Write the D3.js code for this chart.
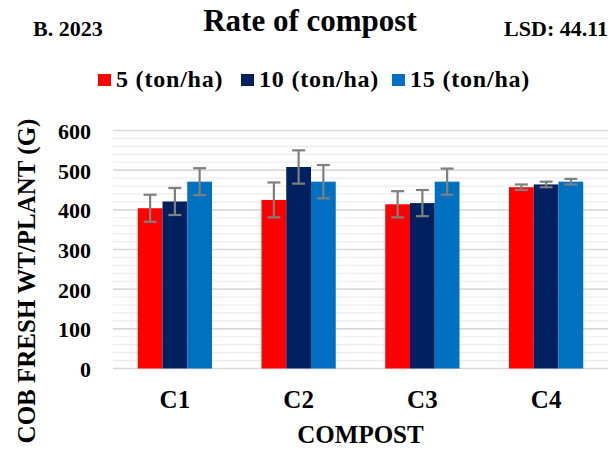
<!DOCTYPE html>
<html>
<head>
<meta charset="utf-8">
<script src="https://cdn.jsdelivr.net/npm/d3@7"></script>
<style>
	body { margin: 0; background: #fff; }
	svg text { font-family: "Liberation Serif", "Times New Roman", serif; font-weight: bold; fill: #000; }
</style>
</head>
<body>
<svg id="chart" width="614" height="451"></svg>
<script>

var categories = ['C1', 'C2', 'C3', 'C4'];
var series_names = ['5 (ton/ha)', '10 (ton/ha)', '15 (ton/ha)'];
var series_colors = ['#ff0000', '#002060', '#0070c0'];

// mean values per compost level, one array per rate
var rate5 = [404, 425, 414, 457];
var rate10 = [421, 508, 417, 464];
var rate15 = [471, 471, 471, 471];

// error bar half-widths
var err5 = [34, 44, 33, 7];
var err10 = [34, 42, 33, 7];
var err15 = [34, 42, 33, 7];

var y_ticks = [0, 100, 200, 300, 400, 500, 600];

var values = [rate5, rate10, rate15];
var errors = [err5, err10, err15];

var svg = d3.select('#chart');

var margin = {top: 130.5, right: 6, bottom: 82.5, left: 113}
  , width = 614 - margin.left - margin.right
  , height = 451 - margin.top - margin.bottom;

var x0 = d3.scaleBand()
	.domain(categories)
	.range([0, width])
	.paddingInner(0.4)
	.paddingOuter(0.2);

var x1 = d3.scaleBand()
	.domain(d3.range(series_names.length))
	.range([0, x0.bandwidth()]);

var y = d3.scaleLinear()
	.domain([0, 600])
	.range([height, 0]);

var main = svg.append('g')
	.attr('transform', 'translate(' + margin.left + ',' + margin.top + ')');

// minor gridlines every 20
main.append('g')
	.selectAll('line')
	.data(d3.range(20, 600, 20).filter(function (d) { return d % 100 != 0; }))
	.enter().append('line')
	.attr('x1', 0).attr('x2', width)
	.attr('y1', function (d) { return y(d); })
	.attr('y2', function (d) { return y(d); })
	.attr('stroke', '#ececec')
	.attr('stroke-width', 1.2);

// major gridlines
main.append('g')
	.selectAll('line')
	.data(y_ticks)
	.enter().append('line')
	.attr('x1', 0).attr('x2', width)
	.attr('y1', function (d) { return y(d); })
	.attr('y2', function (d) { return y(d); })
	.attr('stroke', '#d9d9d9')
	.attr('stroke-width', 1.6);

// y tick labels
var yAxis = d3.axisLeft(y).tickValues(y_ticks).tickSize(0).tickPadding(22);
var yg = main.append('g').call(yAxis);
yg.select('.domain').remove();
yg.selectAll('text')
	.style('font-size', '22px')
	.style('font-family', '"Liberation Serif", serif')
	.style('font-weight', 'bold')
	.attr('dy', '0.36em');

// x tick labels
var xAxis = d3.axisBottom(x0).tickSize(0).tickPadding(22);
var xg = main.append('g')
	.attr('transform', 'translate(0,' + height + ')')
	.call(xAxis);
xg.select('.domain').remove();
xg.selectAll('text')
	.style('font-size', '25px')
	.style('font-family', '"Liberation Serif", serif')
	.style('font-weight', 'bold');

// bars
var groups = main.selectAll('.group')
	.data(categories)
	.enter().append('g')
	.attr('class', 'group')
	.attr('transform', function (d) { return 'translate(' + x0(d) + ',0)'; });

groups.selectAll('rect')
	.data(function (d, i) {
		return values.map(function (s, k) { return {k: k, v: s[i], e: errors[k][i]}; });
	})
	.enter().append('rect')
	.attr('x', function (d) { return x1(d.k); })
	.attr('y', function (d) { return y(d.v); })
	.attr('width', x1.bandwidth())
	.attr('height', function (d) { return height - y(d.v); })
	.attr('fill', function (d) { return series_colors[d.k]; });

// error bars
var eb = groups.selectAll('.err')
	.data(function (d, i) {
		return values.map(function (s, k) { return {k: k, v: s[i], e: errors[k][i]}; });
	})
	.enter().append('g')
	.attr('class', 'err')
	.attr('stroke', '#7f7f7f')
	.attr('stroke-width', 2.2);

eb.append('line')
	.attr('x1', function (d) { return x1(d.k) + x1.bandwidth() / 2; })
	.attr('x2', function (d) { return x1(d.k) + x1.bandwidth() / 2; })
	.attr('y1', function (d) { return y(d.v + d.e); })
	.attr('y2', function (d) { return y(d.v - d.e); });

[1, -1].forEach(function (sign) {
	eb.append('line')
		.attr('x1', function (d) { return x1(d.k) + x1.bandwidth() / 2 - 6.5; })
		.attr('x2', function (d) { return x1(d.k) + x1.bandwidth() / 2 + 6.5; })
		.attr('y1', function (d) { return y(d.v + sign * d.e); })
		.attr('y2', function (d) { return y(d.v + sign * d.e); });
});

// titles
svg.append('text')
	.attr('x', 310).attr('y', 31)
	.attr('text-anchor', 'middle')
	.style('font-size', '31px')
	.text('Rate of compost');

svg.append('text')
	.attr('x', 33).attr('y', 36)
	.style('font-size', '22px')
	.text('B. 2023');

svg.append('text')
	.attr('x', 608).attr('y', 36)
	.attr('text-anchor', 'end')
	.style('font-size', '22px')
	.text('LSD: 44.11');

// legend
var legend_x = [98, 241, 392];
var legend = svg.selectAll('.legend')
	.data(series_names)
	.enter().append('g')
	.attr('class', 'legend')
	.attr('transform', function (d, i) { return 'translate(' + legend_x[i] + ',74)'; });

legend.append('rect')
	.attr('width', 13).attr('height', 12)
	.attr('fill', function (d, i) { return series_colors[i]; });

legend.append('text')
	.attr('x', 18).attr('y', 13)
	.style('font-size', '24px')
	.style('letter-spacing', '0.8px')
	.text(function (d) { return d; });

// axis titles
svg.append('text')
	.attr('text-anchor', 'middle')
	.attr('transform', 'translate(35,281)rotate(-90)')
	.style('font-size', '25px')
	.text('COB FRESH WT/PLANT (G)');

svg.append('text')
	.attr('x', margin.left + width / 2).attr('y', 443)
	.attr('text-anchor', 'middle')
	.style('font-size', '25px')
	.text('COMPOST');

</script>
</body>
</html>
